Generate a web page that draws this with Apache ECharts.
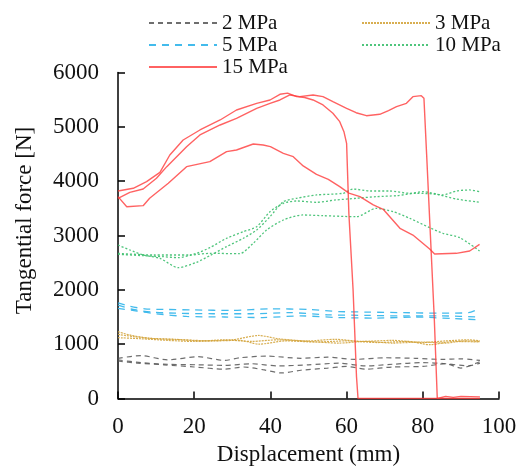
<!DOCTYPE html>
<html>
<head>
<meta charset="utf-8">
<script src="https://cdn.jsdelivr.net/npm/echarts@6/dist/echarts.min.js"></script>
<style>
  html, body { margin: 0; padding: 0; background: #fff; }
  #chart { width: 520px; height: 471px; }
</style>
</head>
<body>
<div id="chart"></div>
<script>
// Tangential force vs displacement, three trials per normal pressure.
// Each trial is a list of [displacement (mm), force (N)] readings.

const legendLeft = ['2 MPa', '5 MPa', '15 MPa'];
const legendRight = ['3 MPa', '10 MPa'];
const xTicks = [0, 20, 40, 60, 80, 100];
const yTicks = [0, 1000, 2000, 3000, 4000, 5000, 6000];

// 2 MPa
const p2_t1 = [[0,740],[6,790],[13,710],[21,770],[28,700],[32,750],[39,780],[48,740],[55,760],[62,720],[70,750],[78,740],[85,720],[90,730],[95,700]];
const p2_t2 = [[0,710],[6,660],[13,630],[21,620],[28,610],[35,640],[42,600],[50,620],[58,650],[65,600],[72,630],[80,660],[86,640],[92,600],[95,650]];
const p2_t3 = [[0,690],[5,650],[12,620],[20,580],[28,540],[33,580],[38,530],[43,470],[48,520],[55,560],[60,590],[65,540],[72,580],[80,590],[86,640],[90,560],[95,680]];

// 3 MPa
const p3_t1 = [[0,1230],[3,1170],[8,1110],[15,1090],[22,1060],[30,1080],[37,1160],[42,1100],[50,1060],[57,1090],[64,1050],[72,1070],[80,1030],[86,1060],[92,1080],[95,1060]];
const p3_t2 = [[0,1180],[4,1140],[10,1100],[17,1080],[25,1060],[32,1070],[37,1000],[44,1060],[52,1040],[60,1060],[68,1030],[76,1050],[82,990],[88,1050],[95,1040]];
const p3_t3 = [[0,1120],[6,1100],[13,1070],[20,1050],[28,1080],[35,1050],[42,1080],[50,1050],[58,1020],[65,1050],[72,1020],[80,1040],[86,1020],[91,1060],[95,1050]];

// 5 MPa
const p5_t1 = [[0,1760],[3,1700],[7,1650],[12,1640],[20,1630],[30,1620],[40,1650],[50,1640],[58,1600],[66,1590],[75,1580],[85,1570],[92,1580],[95,1660]];
const p5_t2 = [[0,1720],[4,1640],[9,1590],[15,1570],[25,1560],[35,1560],[45,1580],[55,1540],[65,1530],[75,1520],[85,1520],[95,1500]];
const p5_t3 = [[0,1660],[5,1610],[10,1560],[18,1510],[28,1500],[38,1490],[48,1520],[58,1490],[68,1480],[78,1500],[88,1470],[95,1450]];

// 10 MPa
const p10_t1 = [[0,2825],[3.1,2733],[6.6,2641],[11,2580],[15.8,2408],[20.6,2507],[24.1,2629],[28.5,2795],[32.9,2949],[36.4,3101],[39.9,3346],[43.4,3622],[46.9,3685],[52.1,3746],[59.1,3777],[61.7,3856],[66.1,3819],[71.3,3819],[76.6,3777],[80.1,3806],[85.3,3746],[88.8,3819],[92.3,3838],[94.9,3806]];
const p10_t2 = [[0,2654],[6.6,2629],[11.9,2610],[15.8,2592],[20.6,2672],[24.1,2776],[28.5,2949],[32.9,3070],[36.4,3162],[39.9,3438],[43.4,3593],[46.9,3635],[52.1,3611],[57.2,3654],[62.6,3685],[67.8,3715],[73.1,3733],[78.3,3777],[83.6,3758],[88.8,3672],[94.9,3611]];
const p10_t3 = [[0,2672],[9.2,2641],[18.9,2641],[24.1,2672],[31.9,2665],[35.5,2857],[39,3101],[43.4,3285],[48.5,3378],[53.7,3365],[62.6,3346],[67.8,3500],[72.2,3438],[76.6,3316],[81.8,3144],[85.3,3040],[89.7,2960],[94.9,2715]];

// 15 MPa
const p15_t1 = [[0,3819],[4,3869],[7.5,3991],[11,4163],[13.6,4482],[17.1,4758],[21.5,4942],[26.8,5126],[31.1,5310],[36.4,5433],[39.9,5494],[42.5,5599],[44.5,5620],[46.9,5555],[49,5540],[51.2,5494],[53.8,5402],[56.4,5249],[58.2,5095],[59.3,4911],[60,4697],[60.6,3400],[61.7,2000],[62.6,400],[63,0],[70,0],[80,0],[95,0]];
const p15_t2 = [[0,3685],[3.1,3795],[6.6,3856],[10.1,4053],[12.8,4267],[18,4635],[21.5,4850],[26.8,5034],[31.1,5157],[36.4,5341],[39.9,5433],[42.5,5494],[45.1,5586],[47.7,5555],[51.2,5586],[53.8,5555],[56.4,5463],[60,5341],[62.5,5260],[65.2,5205],[68.7,5231],[71,5300],[73.1,5371],[75.7,5433],[77.4,5555],[79.6,5574],[80.3,5525],[81,4500],[82,3000],[83,1500],[83.8,0],[86,40],[88,20],[90,40],[95,30]];
const p15_t3 = [[0,3715],[2.3,3530],[6.6,3549],[8.3,3685],[13.2,3961],[18,4267],[24.1,4359],[28.5,4543],[31.1,4574],[35.5,4684],[38.1,4666],[40,4635],[43.4,4513],[46,4451],[48.6,4280],[52.1,4126],[55.2,4034],[58.2,3899],[60.6,3780],[63.5,3715],[67,3562],[69.6,3482],[74,3132],[77.4,3009],[81.8,2752],[83.1,2660],[88.8,2672],[92.3,2715],[94.9,2838]];

const FONT = "'Liberation Serif', 'Times New Roman', serif";

const styles = {
  '2 MPa':  { color: '#555555', width: 1.2, type: [5, 4], opacity: 0.85 },
  '3 MPa':  { color: '#d4a53e', width: 1.2, type: [2, 1], opacity: 0.9 },
  '5 MPa':  { color: '#2fb4ea', width: 1.3, type: [7, 6], opacity: 0.9 },
  '10 MPa': { color: '#3cbf6e', width: 1.3, type: [2, 2], opacity: 0.9 },
  '15 MPa': { color: '#ff3b3b', width: 1.4, type: 'solid', opacity: 0.8 }
};

const trials = [
  ['2 MPa', p2_t1], ['2 MPa', p2_t2], ['2 MPa', p2_t3],
  ['3 MPa', p3_t1], ['3 MPa', p3_t2], ['3 MPa', p3_t3],
  ['5 MPa', p5_t1], ['5 MPa', p5_t2], ['5 MPa', p5_t3],
  ['10 MPa', p10_t1], ['10 MPa', p10_t2], ['10 MPa', p10_t3],
  ['15 MPa', p15_t1], ['15 MPa', p15_t2], ['15 MPa', p15_t3]
];

const series = trials.map(([name, data]) => {
  const s = styles[name];
  return {
    name: name,
    type: 'line',
    data: data,
    symbol: 'none',
    showSymbol: false,
    smooth: name === '15 MPa' ? false : 0.25,
    color: s.color,
    lineStyle: { color: s.color, width: s.width, type: s.type, opacity: s.opacity },
    itemStyle: { color: s.color },
    emphasis: { disabled: true },
    animation: false
  };
});

// legend rows: line sample followed by the pressure label, no marker dot
const legendCommon = {
  orient: 'vertical',
  top: 7,
  itemWidth: 68,
  itemHeight: 14,
  itemGap: 0,
  itemStyle: { opacity: 0 },
  textStyle: { fontFamily: FONT, fontSize: 21, color: '#111', lineHeight: 22 },
  selectedMode: false
};

const chart = echarts.init(document.getElementById('chart'), null, { renderer: 'canvas' });
chart.setOption({
  animation: false,
  backgroundColor: '#fff',
  legend: [
    Object.assign({}, legendCommon, { left: 143, data: legendLeft }),
    Object.assign({}, legendCommon, { left: 356, data: legendRight })
  ],
  grid: { left: 118, right: 21, top: 72.5, bottom: 72.5, outerBoundsMode: 'none' },
  xAxis: {
    type: 'value',
    min: xTicks[0],
    max: xTicks[xTicks.length - 1],
    interval: xTicks[1] - xTicks[0],
    name: 'Displacement (mm)',
    nameLocation: 'middle',
    nameGap: 44,
    nameTextStyle: { fontFamily: FONT, fontSize: 23, color: '#111' },
    axisLine: { lineStyle: { color: '#000', width: 1.5 } },
    axisTick: { inside: true, length: 7, lineStyle: { color: '#000', width: 1.5 } },
    axisLabel: { fontFamily: FONT, fontSize: 23, color: '#111', margin: 17, formatter: v => String(v) },
    splitLine: { show: false }
  },
  yAxis: {
    type: 'value',
    min: yTicks[0],
    max: yTicks[yTicks.length - 1],
    interval: yTicks[1] - yTicks[0],
    name: 'Tangential force [N]',
    nameLocation: 'middle',
    nameGap: 82,
    nameTextStyle: { fontFamily: FONT, fontSize: 23, color: '#111', padding: [0, 0, 0, 30] },
    axisLine: { lineStyle: { color: '#000', width: 1.5 } },
    axisTick: { inside: true, length: 7, lineStyle: { color: '#000', width: 1.5 } },
    axisLabel: { fontFamily: FONT, fontSize: 23, color: '#111', margin: 19, formatter: v => String(v) },
    splitLine: { show: false }
  },
  series: series
});
</script>
</body>
</html>
